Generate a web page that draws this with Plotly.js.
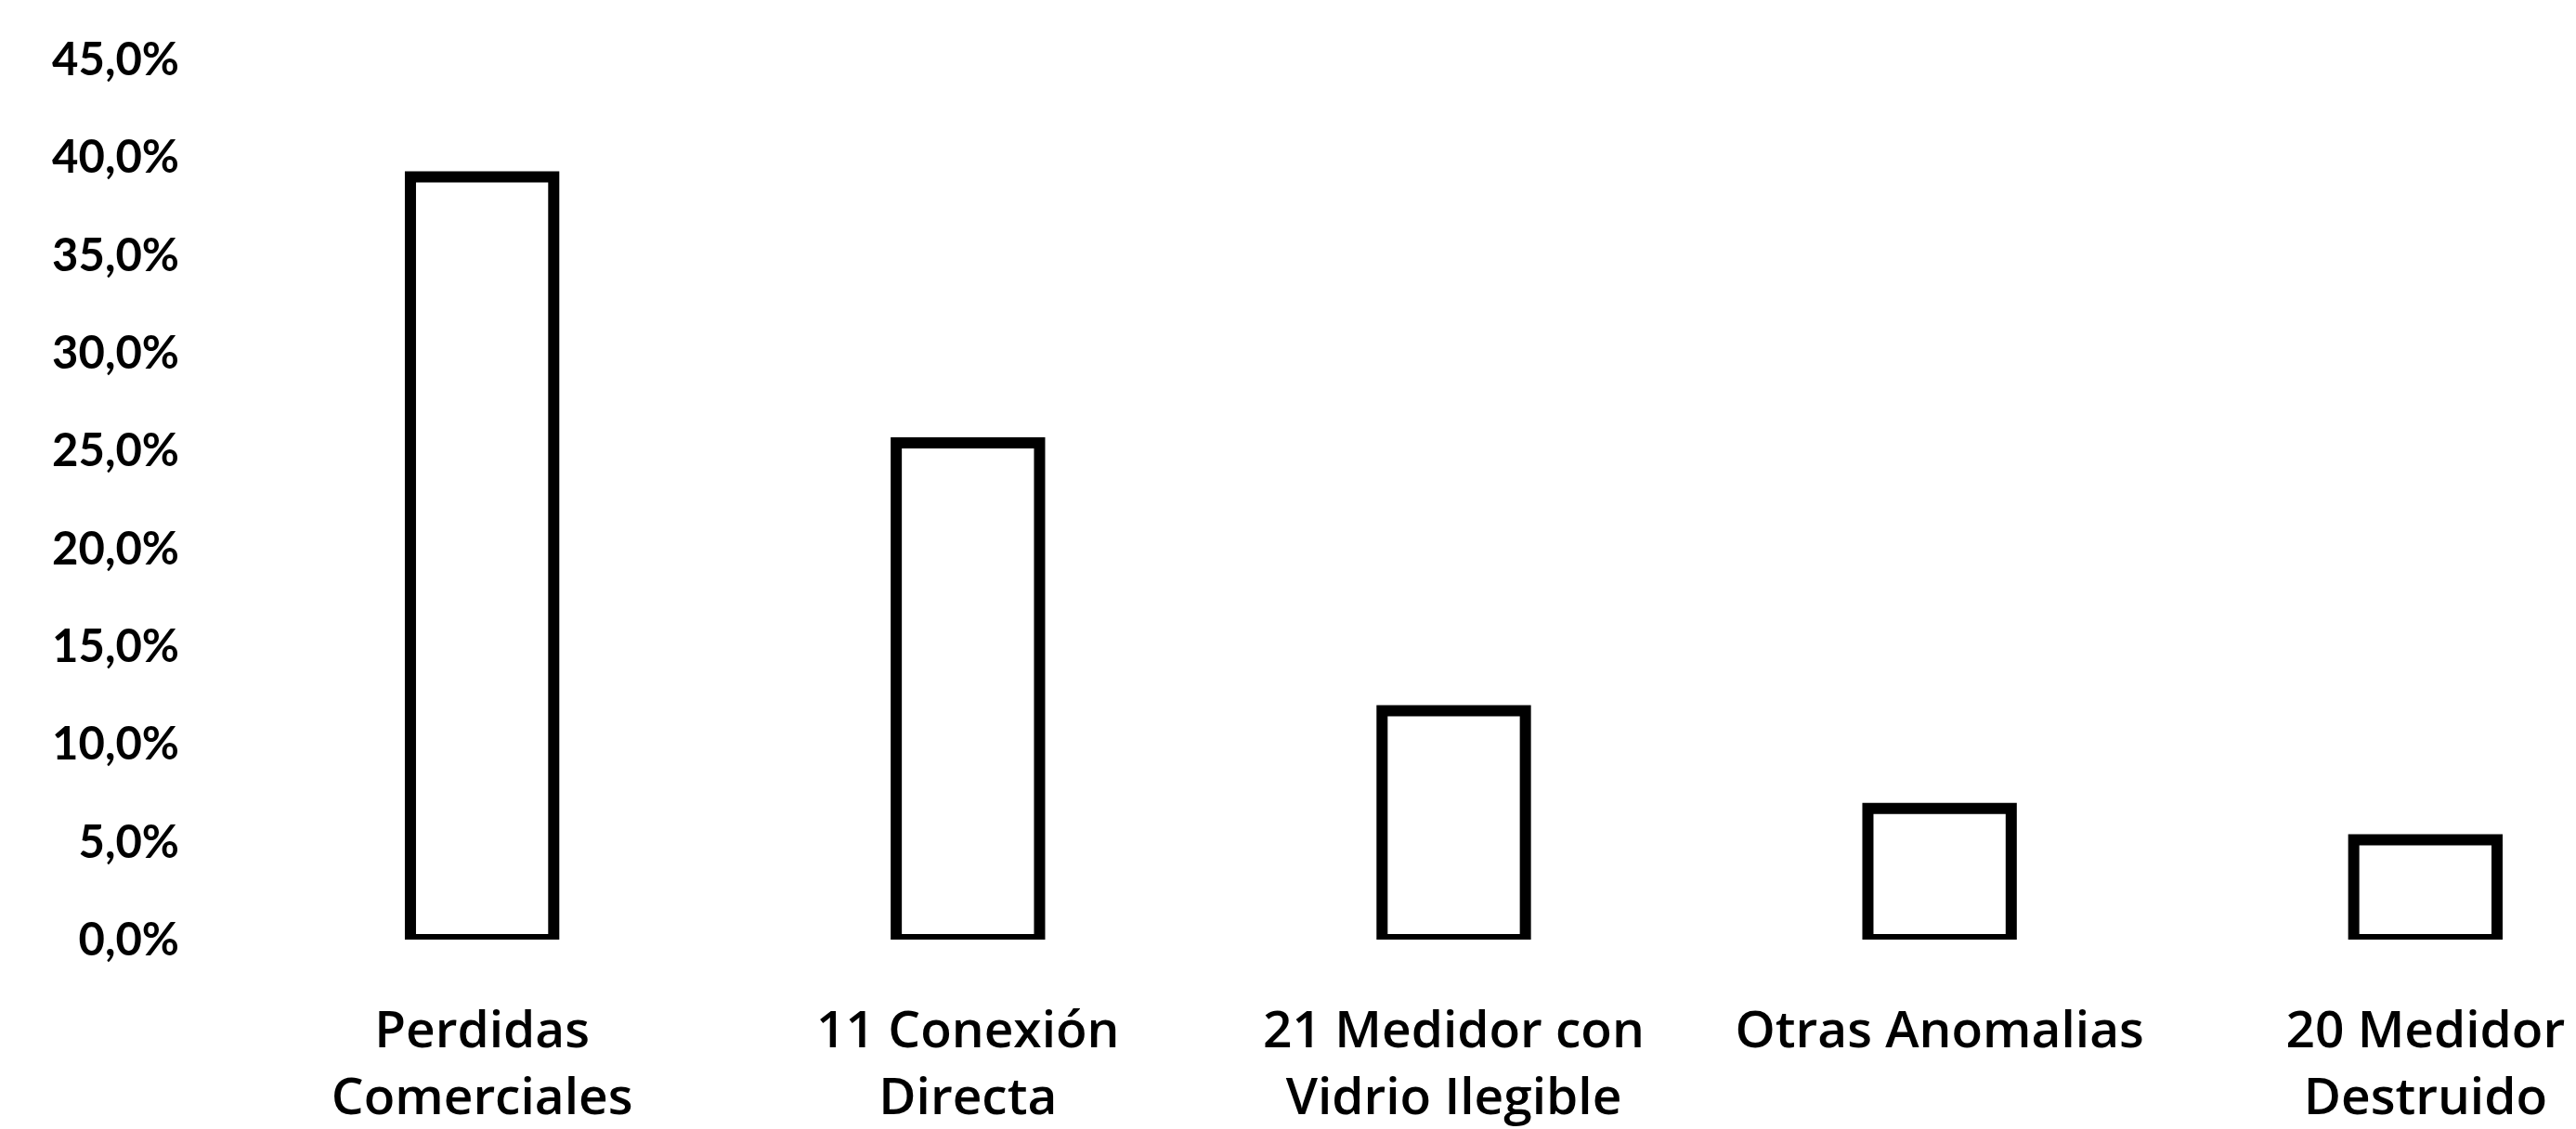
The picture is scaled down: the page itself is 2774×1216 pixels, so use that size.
<!DOCTYPE html>
<html>
<head>
<meta charset="utf-8">
<script src="https://cdn.plot.ly/plotly-3.0.1.min.js"></script>
<style>html,body{margin:0;padding:0;background:#fff;}#chart{width:2774px;height:1216px;}</style>
</head>
<body>
<div id="chart"></div>
<script>
const categories = [
  "Perdidas<br>Comerciales",
  "11 Conexión<br>Directa",
  "21 Medidor con<br>Vidrio Ilegible",
  "Otras Anomalias",
  "20 Medidor<br>Destruido"
];
const percentages = [39.0, 25.4, 11.7, 6.7, 5.1];

const trace = {
  type: "bar",
  x: categories,
  y: percentages,
  marker: { color: "#ffffff", line: { color: "#000000", width: 12 } },
  hoverinfo: "skip"
};

const layout = {
  width: 2774,
  height: 1216,
  margin: { l: 200, r: 0, t: 64, b: 204, pad: 0 },
  paper_bgcolor: "#ffffff",
  plot_bgcolor: "#ffffff",
  separators: ",.",
  bargap: 0.705,
  showlegend: false,
  font: { family: "'Open Sans', Lato, sans-serif", color: "#000000", size: 56 },
  xaxis: {
    type: "category",
    range: [-0.61, 4.31],
    showgrid: false, zeroline: false, showline: false, ticks: "",
    tickfont: { family: "'Open Sans', Lato, sans-serif", size: 55, color: "#000", weight: 600 },
    ticklabelstandoff: 60,
    tickangle: 0
  },
  yaxis: {
    range: [0, 45],
    dtick: 5,
    tick0: 0,
    tickformat: ".1f",
    ticksuffix: "%",
    showgrid: false, zeroline: false, showline: false, ticks: "",
    tickfont: { family: "Lato, sans-serif", size: 49, color: "#000", weight: "bold" },
    ticklabelstandoff: 6
  }
};

Plotly.newPlot("chart", [trace], layout, { staticPlot: true, displayModeBar: false });
</script>
</body>
</html>
